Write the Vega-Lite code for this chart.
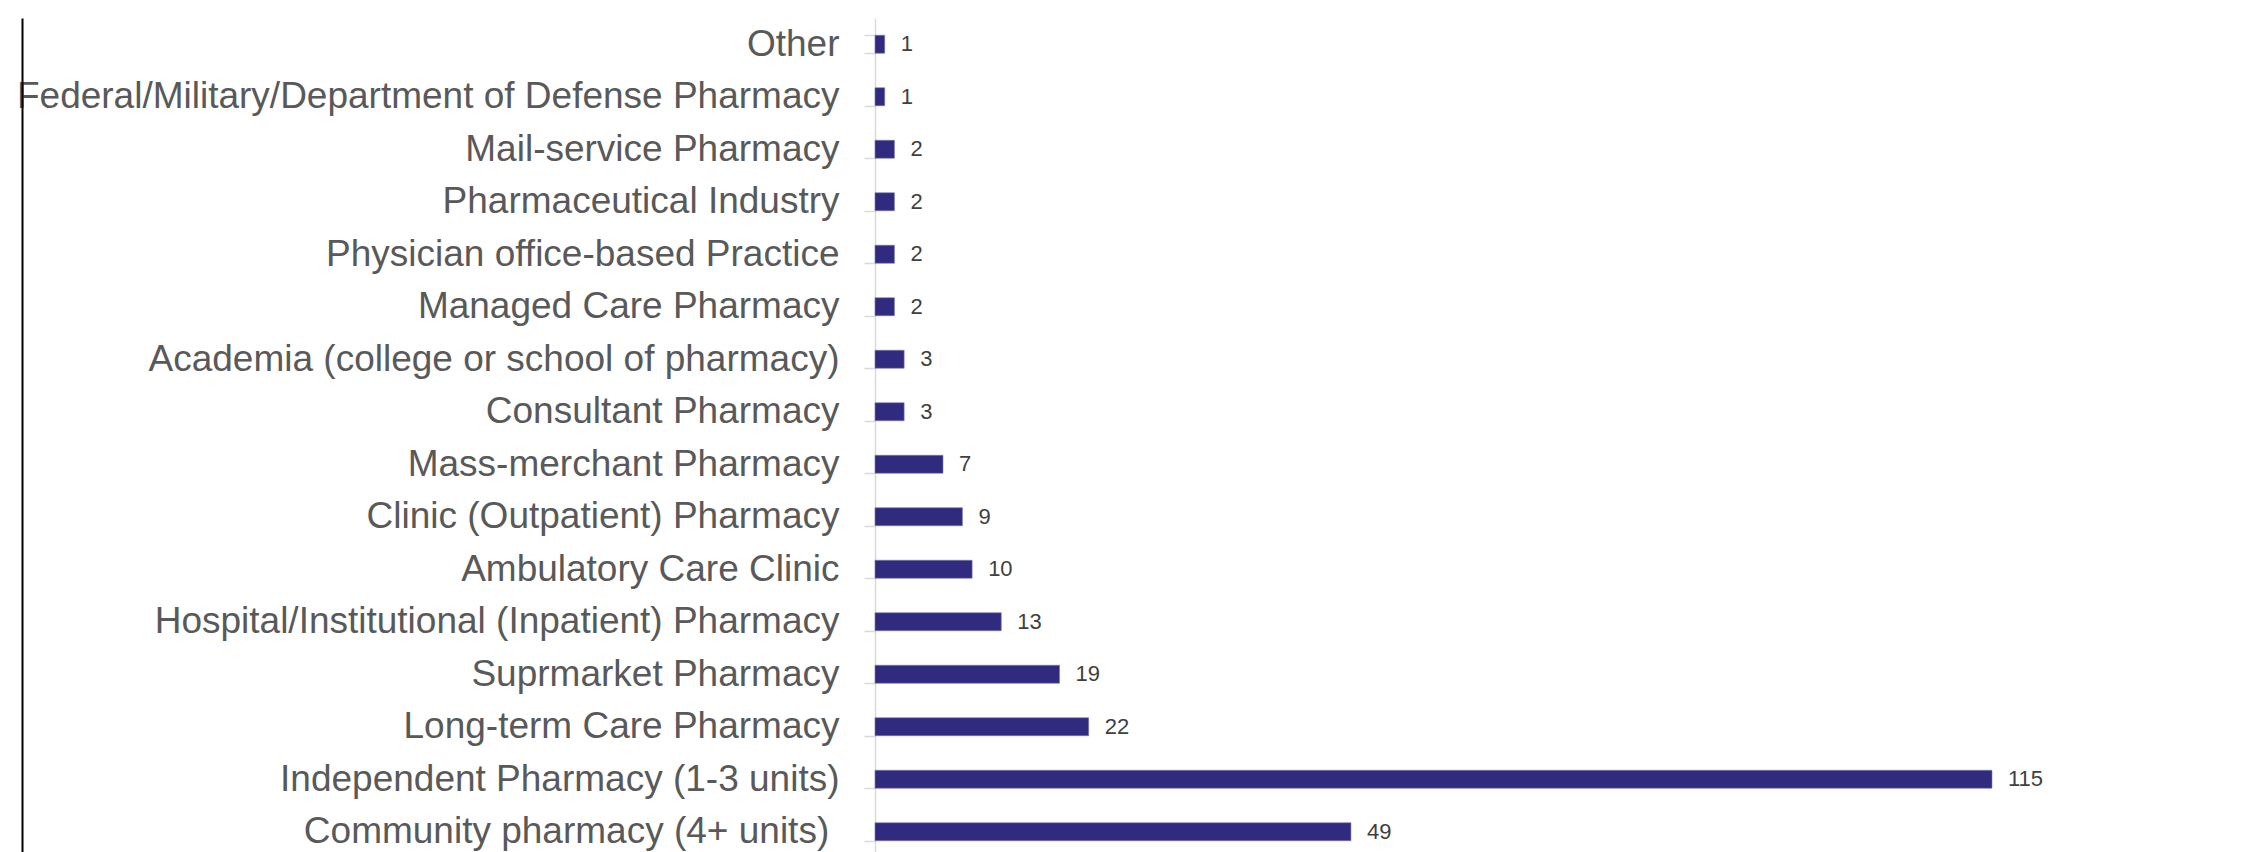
{
  "$schema": "https://vega.github.io/schema/vega-lite/v6.json",
  "width": 1117,
  "height": 840,
  "autosize": "none",
  "padding": {"left": 875, "top": 18, "right": 258, "bottom": 0},
  "background": "white",
  "config": {"view": {"stroke": null}, "font": "Liberation Sans"},
  "data": {
    "values": [
      {"type": "Other", "count": 1},
      {"type": "Federal/Military/Department of Defense Pharmacy", "count": 1},
      {"type": "Mail-service Pharmacy", "count": 2},
      {"type": "Pharmaceutical Industry", "count": 2},
      {"type": "Physician office-based Practice", "count": 2},
      {"type": "Managed Care Pharmacy", "count": 2},
      {"type": "Academia (college or school of pharmacy)", "count": 3},
      {"type": "Consultant Pharmacy", "count": 3},
      {"type": "Mass-merchant Pharmacy", "count": 7},
      {"type": "Clinic (Outpatient) Pharmacy", "count": 9},
      {"type": "Ambulatory Care Clinic", "count": 10},
      {"type": "Hospital/Institutional (Inpatient) Pharmacy", "count": 13},
      {"type": "Suprmarket Pharmacy", "count": 19},
      {"type": "Long-term Care Pharmacy", "count": 22},
      {"type": "Independent Pharmacy (1-3 units)", "count": 115},
      {"type": "Community pharmacy (4+ units)\u00a0\u200b", "count": 49}
    ]
  },
  "encoding": {
    "y": {
      "field": "type",
      "type": "nominal",
      "sort": null,
      "title": null,
      "scale": {"paddingInner": 0.657, "paddingOuter": 0.3285}
    },
    "x": {
      "field": "count",
      "type": "quantitative",
      "scale": {"domain": [0, 115], "nice": false, "zero": true},
      "axis": null
    }
  },
  "layer": [
    {
      "mark": {"type": "bar", "color": "#302b7e", "stroke": "#7c78b0", "strokeWidth": 0.6},
      "encoding": {
        "y": {
          "field": "type",
          "type": "nominal",
          "sort": null,
          "title": null,
          "axis": {
            "orient": "left",
            "domainColor": "#d9d9d9",
            "domainWidth": 1.5,
            "tickColor": "#d9d9d9",
            "tickWidth": 1.5,
            "tickSize": 11,
            "tickBand": "extent",
            "labelFont": "Liberation Sans",
            "labelFontSize": 37,
            "labelColor": "#595959",
            "labelPadding": 25,
            "labelLimit": 2000,
            "grid": false
          }
        }
      }
    },
    {
      "mark": {"type": "text", "align": "left", "baseline": "middle", "dx": 16, "fontSize": 22, "color": "#404040", "font": "Liberation Sans"},
      "encoding": {
        "text": {"field": "count", "type": "quantitative"},
        "y": {
          "field": "type",
          "type": "nominal",
          "sort": null,
          "title": null,
          "axis": {
            "orient": "left",
            "offset": 853,
            "domainColor": "#000000",
            "domainWidth": 2,
            "ticks": false,
            "labels": false,
            "grid": false
          }
        }
      }
    }
  ],
  "resolve": {"axis": {"y": "independent"}}
}
